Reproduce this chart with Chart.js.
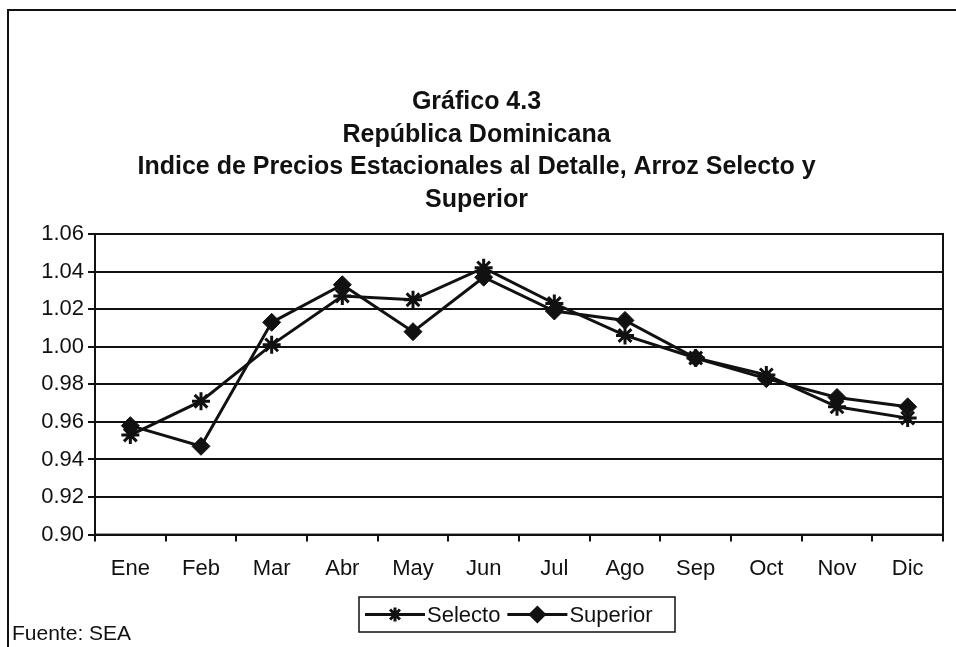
<!DOCTYPE html>
<html>
<head>
<meta charset="utf-8">
<script src="https://cdn.jsdelivr.net/npm/chart.js@4.4.1/dist/chart.umd.min.js"></script>
<style>
  html, body { margin: 0; padding: 0; background: #fff; }
  #wrap { width: 956px; height: 647px; position: relative; }
</style>
</head>
<body>
<div id="wrap"><canvas id="myChart" width="956" height="647"></canvas></div>
<script>
const months = ['Ene', 'Feb', 'Mar', 'Abr', 'May', 'Jun', 'Jul', 'Ago', 'Sep', 'Oct', 'Nov', 'Dic'];
const selecto = [0.953, 0.971, 1.001, 1.027, 1.025, 1.042, 1.023, 1.006, 0.994, 0.985, 0.968, 0.962];
const superior = [0.958, 0.947, 1.013, 1.033, 1.008, 1.037, 1.019, 1.014, 0.994, 0.983, 0.973, 0.968];
const titleLines = ['Gráfico 4.3', 'República Dominicana', 'Indice de Precios Estacionales al Detalle, Arroz Selecto y', 'Superior'];
const source = 'Fuente: SEA';

const ink = '#111';
const fontName = '"Liberation Sans", Arial, sans-serif';

// plot frame, outer frame, boxed legend and source note
const extras = {
    id: 'extras',
    afterDraw(chart) {
        const c = chart.ctx;
        const a = chart.chartArea;
        c.save();
        c.strokeStyle = ink;
        c.lineWidth = 2;
        c.strokeRect(a.left, a.top, a.right - a.left, a.bottom - a.top);

        // outer frame (left and top edges visible)
        c.beginPath();
        c.moveTo(8, 647);
        c.lineTo(8, 10);
        c.lineTo(956, 10);
        c.stroke();

        // legend
        const bx = 359, by = 597, bw = 316, bh = 35;
        c.lineWidth = 1.5;
        c.strokeRect(bx, by, bw, bh);
        c.font = '22px ' + fontName;
        c.fillStyle = ink;
        c.textBaseline = 'middle';
        let x = bx + 6;
        const y = by + bh / 2;
        chart.data.datasets.forEach(ds => {
            c.lineWidth = 3;
            c.beginPath();
            c.moveTo(x, y);
            c.lineTo(x + 60, y);
            c.stroke();
            Chart.helpers.drawPoint(c, {
                pointStyle: ds.pointStyle,
                radius: 7,
                rotation: 0,
                borderWidth: 3
            }, x + 30, y);
            c.fillText(ds.label, x + 62, y + 1);
            x += 62 + c.measureText(ds.label).width + 7;
        });

        c.font = '21px ' + fontName;
        c.textBaseline = 'middle';
        c.fillText(source, 12, 634);
        c.restore();
    }
};

const ctx = document.getElementById('myChart');

new Chart(ctx, {
    type: 'line',
    data: {
        labels: months,
        datasets: [{
            label: 'Selecto',
            data: selecto,
            borderColor: ink,
            backgroundColor: ink,
            borderWidth: 3,
            pointStyle: 'star',
            pointRadius: 9,
            pointBorderWidth: 3,
            tension: 0
        }, {
            label: 'Superior',
            data: superior,
            borderColor: ink,
            backgroundColor: ink,
            borderWidth: 3,
            pointStyle: 'rectRot',
            pointRadius: 9,
            pointBorderWidth: 1,
            tension: 0
        }]
    },
    options: {
        responsive: false,
        animation: false,
        devicePixelRatio: 1,
        layout: {
            padding: { left: 10, right: 13, top: 0, bottom: 51 }
        },
        plugins: {
            legend: { display: false },
            tooltip: { enabled: false },
            title: {
                display: true,
                text: titleLines,
                color: ink,
                font: { family: fontName, size: 25, weight: 'bold', lineHeight: 1.3 },
                padding: { top: 86, bottom: 18 }
            }
        },
        scales: {
            x: {
                offset: true,
                grid: {
                    offset: true,
                    drawOnChartArea: false,
                    color: ink,
                    lineWidth: 2,
                    tickLength: 7
                },
                border: { color: ink, width: 2 },
                ticks: {
                    color: ink,
                    padding: 14,
                    font: { family: fontName, size: 22 }
                }
            },
            y: {
                min: 0.90,
                max: 1.06,
                afterFit(scale) { scale.width = 85; },
                grid: {
                    color: ink,
                    lineWidth: 2,
                    tickLength: 7
                },
                border: { color: ink, width: 2 },
                ticks: {
                    stepSize: 0.02,
                    color: ink,
                    padding: 4,
                    font: { family: fontName, size: 22 },
                    callback: v => v.toFixed(2)
                }
            }
        }
    },
    plugins: [extras]
});
</script>
</body>
</html>
